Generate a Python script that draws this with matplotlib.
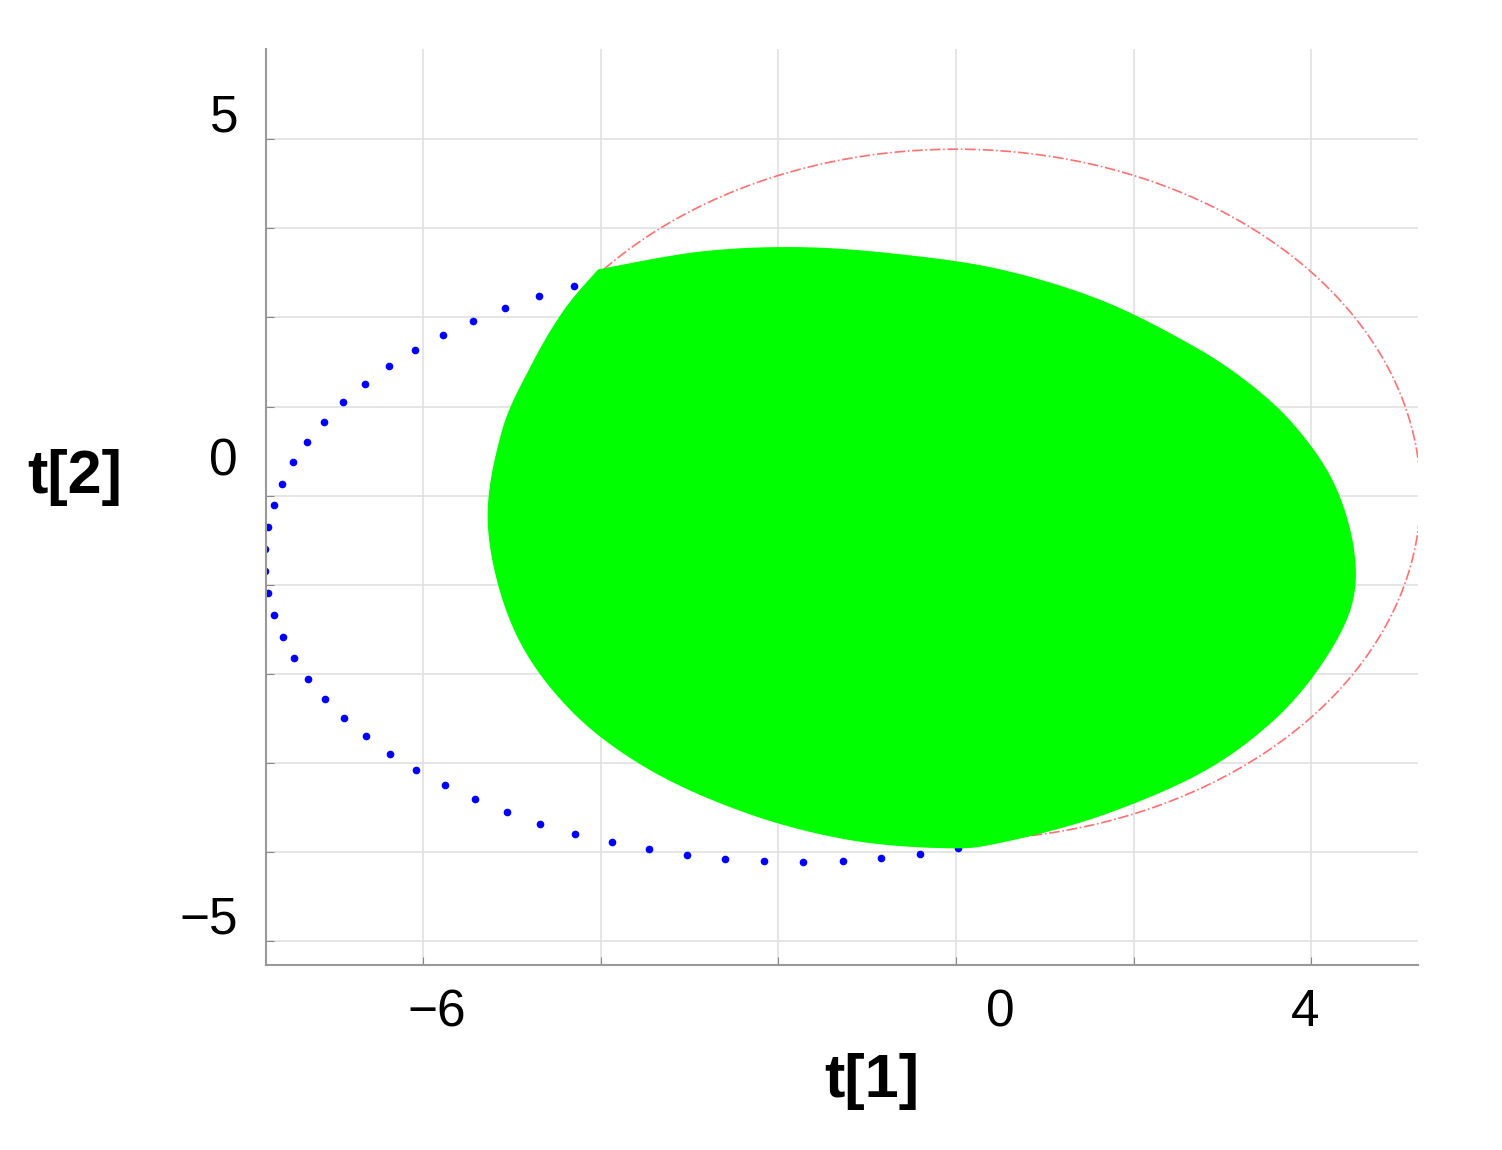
import numpy as np
import matplotlib
matplotlib.use("Agg")
import matplotlib.pyplot as plt

plt.rcParams['font.family'] = ['Liberation Sans', 'DejaVu Sans']

# green region boundary (data units)
green_x = [-4.03, -2.88, -1.76, -0.63, 0.50, 1.62, 2.60, 3.25, 3.80, 4.25, 4.48, 4.45, 4.10, 3.55, 2.75, 1.62,
           0.50, -0.12, -1.19, -2.32, -3.45, -4.35, -4.98, -5.27, -5.12, -4.78, -4.41]
green_y = [3.04, 3.24, 3.29, 3.21, 3.04, 2.70, 2.22, 1.80, 1.30, 0.65, -0.10, -0.75, -1.42, -2.05, -2.62, -3.10,
           -3.40, -3.46, -3.37, -3.08, -2.58, -1.90, -1.00, 0.15, 1.20, 1.97, 2.59]
# blue ellipse: center, semi-axes, angle range (deg)
blue_c, blue_ab, blue_t = (-1.76, -0.22), (6.02, 3.39), (115, 291)
# red ellipse
red_c, red_ab, red_t = (0.0, 0.51), (5.23, 3.88), (-85, 145)

def catmull(xs, ys, n=16, corner=0):
    P = np.column_stack([xs, ys]); N = len(P); out = []
    for i in range(N):
        p0, p1, p2, p3 = P[i-1], P[i], P[(i+1) % N], P[(i+2) % N]
        if i == corner: p0 = p1
        if (i+1) % N == corner: p3 = p2
        for s in np.linspace(0, 1, n, endpoint=False):
            out.append(0.5*((2*p1) + (-p0+p2)*s + (2*p0-5*p1+4*p2-p3)*s**2 + (-p0+3*p1-3*p2+p3)*s**3))
    out = np.array(out)
    return out[:, 0], out[:, 1]

fig = plt.figure(figsize=(15.02, 11.5), dpi=100)
ax = fig.add_axes([0.177, 0.161, 0.767, 0.796])
ax.set_xlim(-7.77, 5.2)
ax.set_ylim(-4.77, 5.51)

gx, gy = catmull(green_x, green_y)
ax.fill(gx, gy, color='#00ff00', zorder=2, lw=0)
t = np.radians(np.arange(blue_t[0], blue_t[1] + 0.1, 4.2))
ax.plot(blue_c[0] + blue_ab[0]*np.cos(t), blue_c[1] + blue_ab[1]*np.sin(t), 'o', color='blue', ms=4.5, zorder=1)
t = np.radians(np.linspace(red_t[0], red_t[1], 400))
ax.plot(red_c[0] + red_ab[0]*np.cos(t), red_c[1] + red_ab[1]*np.sin(t), '-.', color='#ff7070', lw=1.2, zorder=1)

ax.set_xticks([-6, -4, -2, 0, 2, 4])
ax.set_yticks(np.arange(-4.5, 4.6, 1))
ax.set_xticklabels([]); ax.set_yticklabels([])
ax.tick_params(length=6, color='#888888', direction='in')
ax.grid(True, color='#e0e0e0', lw=1.2)
ax.set_axisbelow(True)
for s in ['top', 'right']:
    ax.spines[s].set_visible(False)
for s in ['left', 'bottom']:
    ax.spines[s].set_color('#999999'); ax.spines[s].set_linewidth(1.5)

fs = 37
for lbl, px in [('\u22126', 437), ('0', 1000), ('4', 1305)]:
    fig.text(px/1502, 1 - 1013/1150, lbl, fontsize=fs, ha='center', va='center')
for lbl, py in [('5', 118), ('0', 462), ('\u22125', 920)]:
    fig.text(238/1502, 1 - py/1150, lbl, fontsize=fs, ha='right', va='center')
fig.text(75/1502, 1 - 478/1150, 't[2]', fontsize=44, fontweight='bold', ha='center', va='center')
fig.text(872/1502, 1 - 1082/1150, 't[1]', fontsize=44, fontweight='bold', ha='center', va='center')

fig.savefig('out.png', dpi=100)
